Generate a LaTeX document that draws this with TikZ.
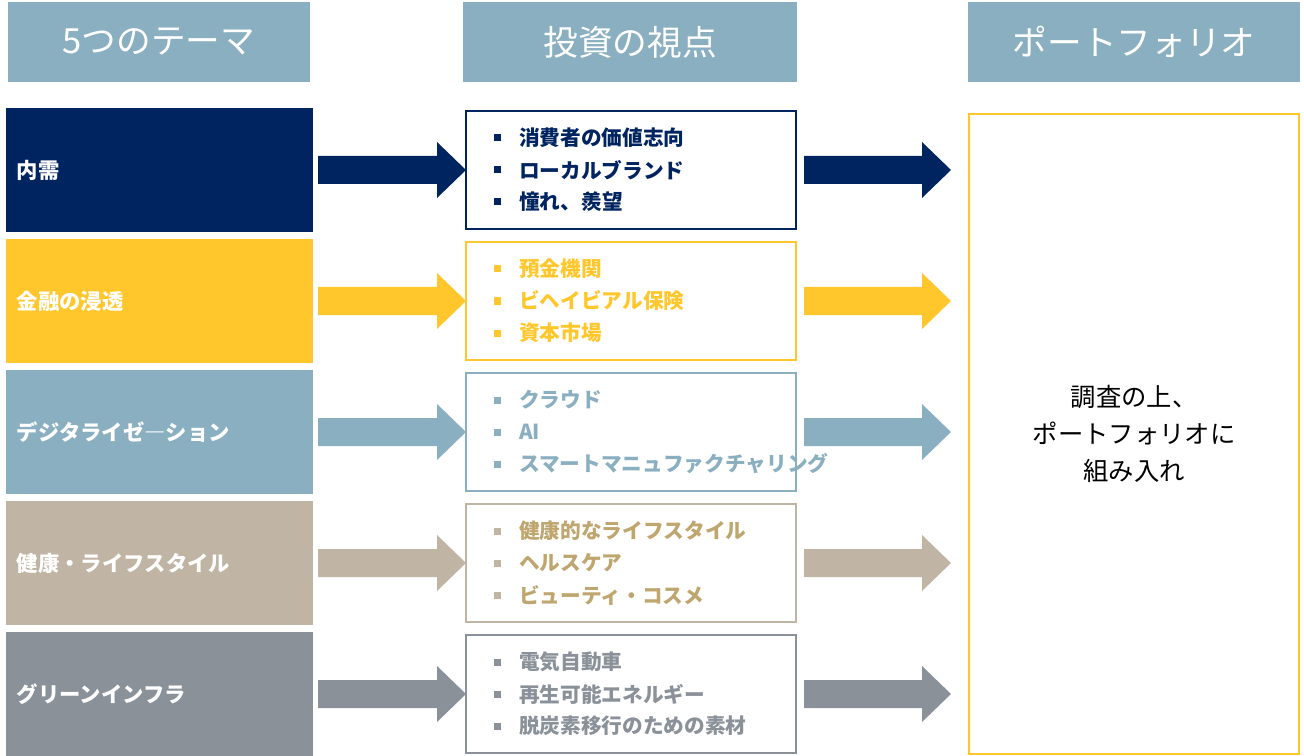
\documentclass[tikz,border=0pt]{standalone}
\usepackage{fontspec}
\setmainfont{Noto Sans CJK JP}
\definecolor{navy}{RGB}{0,36,96}
\definecolor{gold}{RGB}{255,199,44}
\definecolor{steel}{RGB}{138,175,193}
\definecolor{sand}{RGB}{192,180,164}
\definecolor{sandtxt}{RGB}{190,166,110}
\definecolor{slate}{RGB}{138,145,153}
\tikzset{
  headbox/.style={fill=steel, minimum width=226.5pt, minimum height=60pt, inner sep=0pt, text=white, font=\fontsize{26}{28}\selectfont},
  themebox/.style={minimum width=230pt, minimum height=93pt, inner sep=0pt, text=white, font=\bfseries\fontsize{16}{18}\selectfont, text width=214pt, align=left},
  viewbox/.style={draw, line width=1.5pt, fill=white, minimum width=248pt, minimum height=88pt, inner sep=0pt},
  item/.style={anchor=west, inner sep=0pt, font=\bfseries\fontsize{15.5}{17}\selectfont},
}
\begin{document}
\begin{tikzpicture}[x=0.75pt,y=0.75pt,yscale=-1,xscale=1]
	\useasboundingbox (0,0) rectangle (1304,756);
	% headers
	\node [headbox] (h1) at (159,42) {5つのテーマ};
	\node [headbox, minimum width=250.5pt] (h2) at (630,42) {投資の視点};
	\node [headbox, minimum width=249pt] (h3) at (1134,42) {ポートフォリオ};
	% portfolio box
	\node [draw=gold, line width=1.5pt, minimum width=247.5pt, minimum height=480pt, inner sep=0pt, align=center, font=\fontsize{19}{28}\selectfont] (pf) at (1134,434) {調査の上、\\ポートフォリオに\\組み入れ};
	% rows
	\foreach \i/\c/\tc/\lab/\a/\b/\d in {
		1/navy/navy/内需/消費者の価値志向/ローカルブランド/憧れ、羨望,
		2/gold/gold/金融の浸透/預金機関/ビヘイビアル保険/資本市場,
		3/steel/steel/デジタライゼ―ション/クラウド/AI/スマートマニュファクチャリング,
		4/sand/sandtxt/健康・ライフスタイル/健康的なライフスタイル/ヘルスケア/ビューティ・コスメ,
		5/slate/slate/グリーンインフラ/電気自動車/再生可能エネルギー/脱炭素移行のための素材} {
		\pgfmathsetmacro{\yy}{170+131*(\i-1)}
		\node [themebox, fill=\c] (t\i) at (159.5,\yy) {\lab};
		\node [viewbox, draw=\c] (v\i) at (631,\yy) {};
		\fill [\c] (318,\yy-14) -- (437,\yy-14) -- (437,\yy-28) -- (466,\yy) -- (437,\yy+28) -- (437,\yy+14) -- (318,\yy+14) -- cycle;
		\fill [\c] (804,\yy-14) -- (922,\yy-14) -- (922,\yy-28) -- (951,\yy) -- (922,\yy+28) -- (922,\yy+14) -- (804,\yy+14) -- cycle;
		\foreach \k/\txt in {-1/\a, 0/\b, 1/\d} {
			\fill [\c] (494,\yy+32*\k-3.5) rectangle (501,\yy+32*\k+3.5);
			\node [item, text=\tc] at (519,\yy+32*\k) {\txt};
		}
	}
\end{tikzpicture}
\end{document}
